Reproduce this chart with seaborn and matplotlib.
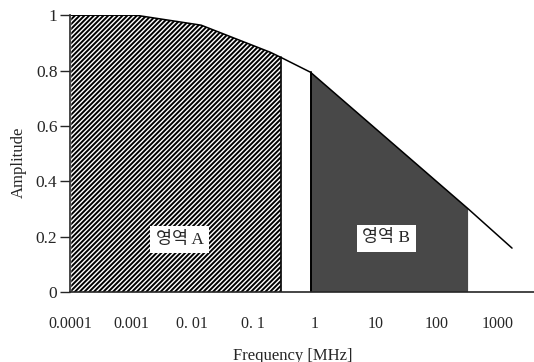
import numpy as np
import pandas as pd
import matplotlib
matplotlib.use('Agg')
import matplotlib.pyplot as plt
import seaborn as sns

# curve (frequency in MHz, amplitude)
freq = [1.05e-4, 1.2e-3, 0.014, 0.19, 0.28, 0.86, 94, 325, 1700]
amp = [1.0, 1.0, 0.964, 0.866, 0.848, 0.794, 0.404, 0.301, 0.159]

# region A = points 0..4, region B = points 5..7
regA = slice(0, 5)
regB = slice(5, 8)

tick_vals = [1e-4, 1e-3, 1e-2, 1e-1, 1, 10, 100, 1000]
tick_text = ['0.0001', '0.001', '0. 01', '0. 1', '1', '10', '100', '1000']
ytick_vals = [0, 0.2, 0.4, 0.6, 0.8, 1]
ytick_text = ['0', '0.2', '0.4', '0.6', '0.8', '1']

df = pd.DataFrame({'Frequency': freq, 'Amplitude': amp})

sns.set_style('ticks')
plt.rcParams['font.family'] = ['Liberation Serif', 'Noto Sans CJK KR']
plt.rcParams['hatch.linewidth'] = 1.4

fig = plt.figure(figsize=(5.34, 3.62), dpi=100)
ax = fig.add_axes([0.131, 0.193, 0.869, 0.765])

fA = np.array(freq[regA])
aA = np.array(amp[regA])
ax.fill_between(fA, 0, aA, facecolor='white', edgecolor='black', hatch='///////', linewidth=0)
ax.plot([fA[-1], fA[-1]], [0, aA[-1]], color='black', lw=1.2)

fB = np.array(freq[regB])
aB = np.array(amp[regB])
ax.fill_between(fB, 0, aB, facecolor='#484848', edgecolor='none', linewidth=0)
ax.plot([fB[0], fB[0]], [0, aB[0]], color='black', lw=1.4)

sns.lineplot(data=df, x='Frequency', y='Amplitude', color='black', lw=1.1, ax=ax)

ax.set_xscale('log')
ax.set_xlim(1.05e-4, 3890)
ax.set_ylim(0, 1)
ax.set_xticks(tick_vals)
ax.set_xticklabels(tick_text)
ax.minorticks_off()
ax.set_yticks(ytick_vals)
ax.set_yticklabels(ytick_text)
ax.tick_params(axis='x', length=0, pad=17, labelsize=11.5)
ax.tick_params(axis='y', length=7, width=1, direction='out', pad=2, labelsize=12.5)

for s in ['top', 'right']:
    ax.spines[s].set_visible(False)
ax.spines['left'].set_linewidth(1.2)
ax.spines['bottom'].set_linewidth(1.2)

ax.set_xlabel('Frequency [MHz]', fontsize=12)
ax.set_ylabel('Amplitude', fontsize=12)
ax.xaxis.set_label_coords(0.48, -0.2)
ax.yaxis.set_label_coords(-0.093, 0.47)

box = dict(facecolor='white', edgecolor='none', pad=4)
ax.text(0.0062, 0.19, '영역 A', ha='center', va='center', fontsize=12.5, bbox=box)
ax.text(15, 0.195, '영역 B', ha='center', va='center', fontsize=12.5, bbox=box)

fig.savefig('out.png', dpi=100)
